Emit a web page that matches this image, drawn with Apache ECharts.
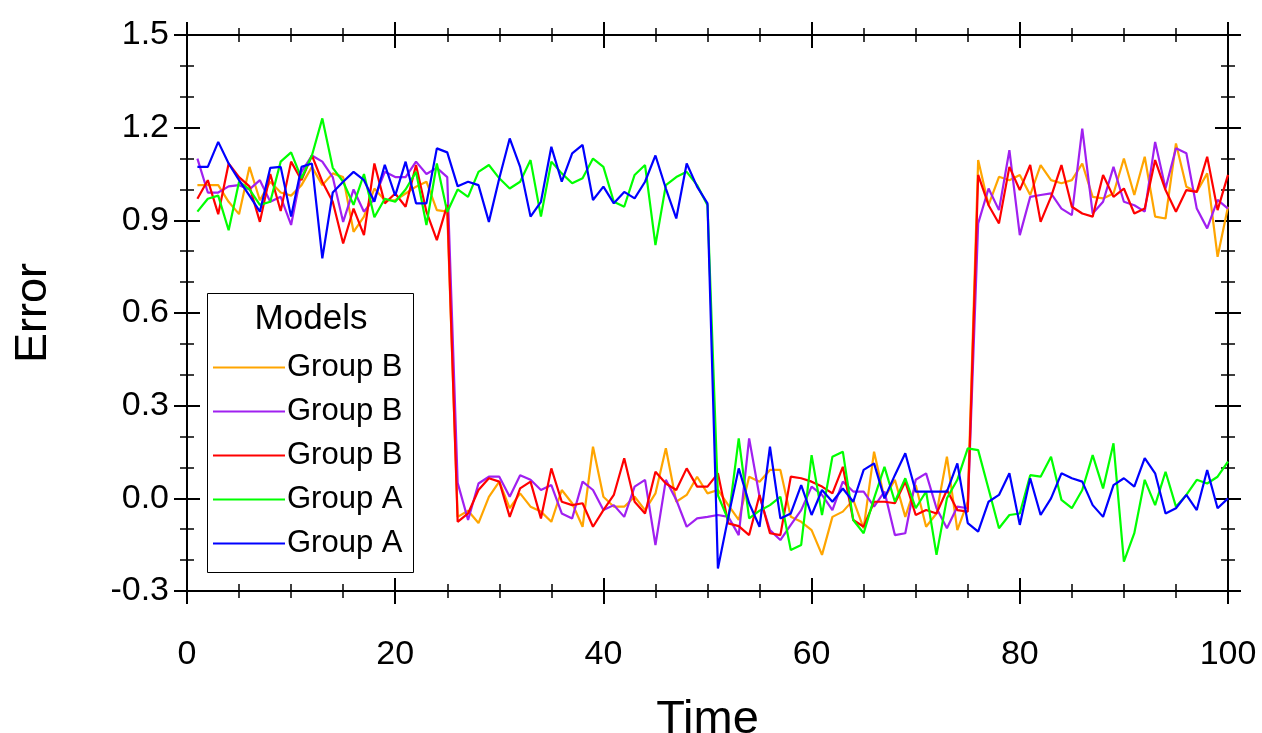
<!DOCTYPE html>
<html>
<head>
<meta charset="utf-8">
<script src="https://cdn.jsdelivr.net/npm/echarts@6/dist/echarts.min.js"></script>
<style>
html,body{margin:0;padding:0;background:#fff;}
#chart{width:1262px;height:733px;}
</style>
</head>
<body>
<div id="chart"></div>
<script>
// ---- data ----
const time = Array.from({length: 100}, (_, i) => i + 1);
const xTicks = [0, 20, 40, 60, 80, 100];
const yTicks = ['-0.3', '0.0', '0.3', '0.6', '0.9', '1.2', '1.5'];
const legendTitle = 'Models';
const seriesNames = ['Group B', 'Group B', 'Group B', 'Group A', 'Group A'];
const seriesColors = ['#FFA500', '#A020F0', '#FF0000', '#00FF00', '#0000FF'];

const orangeB = [
  1.014, 1.014, 1.014, 0.96, 0.92, 1.073, 0.965, 1.025, 0.99, 0.98, 1.014, 1.073,
  1.014, 1.052, 1.04, 0.863, 0.912, 1.003, 0.965, 0.965, 0.987, 1.009, 1.025, 0.933, 0.928,
  -0.06, -0.04, -0.08, 0.005, 0.054, -0.032, 0.016, -0.027, -0.043, -0.076, 0.027, -0.016,
  -0.092, 0.167, 0.005, -0.027, -0.027, 0.005, -0.038, 0.016, 0.162, -0.011, 0.011, 0.07, 0.016,
  0.027, -0.022, -0.07, 0.07, 0.054, 0.092, 0.092, -0.06, -0.076, -0.103, -0.183, -0.06,
  -0.043, -0.005, -0.097, 0.151, 0.0, 0.06, -0.06, 0.043, -0.092, -0.049, 0.135, -0.103, -0.011,
  1.095, 0.949, 1.041, 1.03, 1.047, 0.982, 1.079, 1.03, 1.02, 1.03, 1.084, 0.976,
  0.971, 0.987, 1.1, 0.982, 1.106, 0.912, 0.906, 1.149, 1.009, 0.992, 1.052, 0.782, 0.944
];
const purpleB = [
  1.1, 0.99, 0.99, 1.01, 1.014, 1.0, 1.03, 0.96, 0.976, 0.885, 1.057, 1.11,
  1.09, 1.04, 0.895, 1.0, 0.928, 0.97, 1.057, 1.04, 1.04, 1.09, 1.05, 1.07, 1.04,
  0.05, -0.07, 0.048, 0.07, 0.07, 0.005, 0.075, 0.06, 0.027, 0.043, -0.049, -0.065,
  0.054, 0.027, -0.038, -0.022, -0.06, 0.038, 0.06, -0.151, 0.06, -0.005, -0.092, -0.065, -0.06,
  -0.054, -0.06, -0.119, 0.194, 0.005, -0.103, -0.135, -0.086, -0.038, 0.038, 0.011, -0.038,
  0.054, 0.022, 0.022, -0.027, 0.022, -0.119, -0.113, 0.06, 0.081, -0.032, -0.097, -0.027, -0.032,
  0.89, 1.003, 0.933, 1.127, 0.852, 0.976, 0.982, 0.987, 0.938, 0.917, 1.197, 0.922,
  0.96, 1.073, 0.96, 0.949, 0.928, 1.154, 1.003, 1.133, 1.117, 0.938, 0.874, 0.966, 0.938
];
const redB = [
  0.97, 1.03, 0.92, 1.084, 1.04, 1.01, 0.895, 1.05, 0.93, 1.09, 1.03, 1.11,
  1.025, 0.96, 0.825, 0.938, 0.852, 1.084, 0.955, 0.987, 0.944, 1.079, 0.928, 0.836, 0.95,
  -0.076, -0.049, 0.027, 0.065, 0.054, -0.06, 0.032, 0.054, -0.065, 0.097, -0.011, -0.022,
  -0.016, -0.092, -0.038, 0.011, 0.13, -0.011, -0.049, 0.086, 0.048, 0.027, 0.097, 0.038, 0.038,
  0.081, -0.081, -0.09, -0.119, 0.011, -0.113, -0.119, 0.07, 0.065, 0.054, 0.038, 0.016,
  0.102, -0.07, -0.092, -0.011, -0.011, -0.016, 0.054, -0.054, -0.038, -0.049, 0.027, -0.038, -0.043,
  1.047, 0.949, 0.89, 1.073, 0.998, 1.079, 0.895, 0.976, 1.079, 0.944, 0.922, 0.912,
  1.047, 0.976, 1.003, 0.922, 0.938, 1.095, 0.998, 0.928, 0.998, 0.992, 1.106, 0.933, 1.047
];
const greenA = [
  0.928, 0.97, 0.98, 0.868, 1.025, 1.0, 0.95, 0.96, 1.09, 1.12, 1.036, 1.11,
  1.23, 1.07, 1.025, 0.95, 1.05, 0.91, 0.97, 0.96, 1.0, 1.057, 0.885, 1.084, 0.927,
  1.0, 0.976, 1.057, 1.079, 1.036, 1.003, 1.025, 1.095, 0.912, 1.09, 1.052, 1.02,
  1.036, 1.1, 1.073, 0.96, 0.944, 1.047, 1.079, 0.82, 1.014, 1.04, 1.057, 1.014, 0.949,
  0.01, -0.07, 0.194, -0.065, -0.04, -0.022, 0.005, -0.167, -0.151, 0.14, -0.054, 0.135,
  0.151, -0.07, -0.113, 0.0, 0.102, -0.011, 0.065, -0.032, 0.022, -0.183, 0.0, 0.06, 0.162,
  0.156, 0.03, -0.097, -0.054, -0.049, 0.075, 0.07, 0.135, -0.005, -0.032, 0.027, 0.14,
  0.032, 0.178, -0.205, -0.113, 0.06, -0.022, 0.086, -0.027, 0.011, 0.06, 0.048, 0.07, 0.119
];
const blueA = [
  1.073, 1.073, 1.154, 1.084, 1.03, 0.98, 0.928, 1.07, 1.073, 0.912, 1.073, 1.084,
  0.777, 0.99, 1.025, 1.057, 1.03, 0.96, 1.08, 0.98, 1.09, 0.955, 0.955, 1.133, 1.12,
  1.01, 1.025, 1.014, 0.895, 1.036, 1.165, 1.073, 0.912, 0.96, 1.138, 1.025, 1.117,
  1.144, 0.966, 1.009, 0.955, 0.992, 0.971, 1.025, 1.11, 1.003, 0.906, 1.084, 1.009, 0.955,
  -0.227, -0.06, 0.097, -0.016, -0.092, 0.167, -0.065, -0.049, 0.043, -0.054, 0.027, -0.011,
  0.032, -0.011, 0.092, 0.113, 0.0, 0.075, 0.146, 0.022, 0.022, 0.022, 0.022, 0.113, -0.08,
  -0.108, -0.011, 0.011, 0.081, -0.086, 0.065, -0.054, 0.0, 0.081, 0.065, 0.054, -0.022,
  -0.06, 0.043, 0.065, 0.038, 0.13, 0.081, -0.049, -0.032, 0.011, -0.038, 0.092, -0.032, 0.0
];
const seriesValues = [orangeB, purpleB, redB, greenA, blueA];

// ---- chart ----
const FONT = 'Liberation Sans, Arial, Helvetica, sans-serif';
const chart = echarts.init(document.getElementById('chart'), null, {renderer: 'canvas'});

function makeAxis(kind, position, inside, withLabels) {
  const base = {
    type: 'value',
    position: position,
    min: kind === 'x' ? 0 : -0.3,
    max: kind === 'x' ? 100 : 1.5,
    interval: kind === 'x' ? 20 : 0.3,
    splitLine: {show: false},
    axisLine: {show: true, onZero: false, lineStyle: {color: '#000', width: 2}},
    axisTick: {show: true, inside: inside, length: 13, lineStyle: {color: '#000', width: 2}},
    minorTick: {show: true, splitNumber: kind === 'x' ? 4 : 3, length: 7, lineStyle: {color: '#000', width: 1.5}},
    axisLabel: {show: false},
    silent: true
  };
  if (withLabels) {
    if (kind === 'x') {
      base.axisLabel = {
        show: true, fontSize: 34, color: '#000', fontFamily: FONT, margin: 47,
        formatter: v => String(xTicks.find(t => Math.abs(t - v) < 1e-6) ?? v)
      };
      base.name = 'Time';
      base.nameLocation = 'middle';
      base.nameGap = 106;
      base.nameTextStyle = {fontSize: 47, color: '#000', fontFamily: FONT};
    } else {
      base.axisLabel = {
        show: true, fontSize: 34, color: '#000', fontFamily: FONT, margin: 18,
        formatter: v => {
          const idx = Math.round((v + 0.3) / 0.3);
          return yTicks[idx] !== undefined ? yTicks[idx] : v.toFixed(1);
        }
      };
      base.name = 'Error';
      base.nameLocation = 'middle';
      base.nameGap = 131;
      base.nameRotate = 90;
      base.nameTextStyle = {fontSize: 45, color: '#000', fontFamily: FONT};
    }
  }
  return base;
}

const option = {
  backgroundColor: '#fff',
  animation: false,
  grid: {left: 187, right: 34, top: 35, bottom: 142, containLabel: false, outerBoundsMode: 'none'},
  xAxis: [
    makeAxis('x', 'bottom', false, true),
    makeAxis('x', 'bottom', true, false),
    makeAxis('x', 'top', false, false),
    makeAxis('x', 'top', true, false)
  ],
  yAxis: [
    makeAxis('y', 'left', false, true),
    makeAxis('y', 'left', true, false),
    makeAxis('y', 'right', false, false),
    makeAxis('y', 'right', true, false)
  ],
  graphic: [
    {type: 'rect', left: 207, top: 293, z: 5,
     shape: {width: 206, height: 279},
     style: {fill: '#fff', stroke: '#000', lineWidth: 1}},
    {type: 'text', x: 311, y: 319, z: 6,
     style: {text: legendTitle, fill: '#000', font: '35px ' + FONT, textAlign: 'center', textVerticalAlign: 'middle'}}
  ],
  legend: {
    orient: 'vertical',
    left: 213, top: 352,
    padding: 0,
    icon: 'rect',
    itemWidth: 72, itemHeight: 2, itemGap: 13,
    z: 10,
    data: seriesNames.map((n, i) => n + '#' + i),
    formatter: name => name.split('#')[0],
    textStyle: {fontSize: 31, color: '#000', fontFamily: FONT, lineHeight: 31, padding: [0, 0, 0, -3]}
  },
  series: seriesValues.map((vals, i) => ({
    name: seriesNames[i] + '#' + i,
    type: 'line',
    xAxisIndex: 0, yAxisIndex: 0,
    data: time.map((t, k) => [t, vals[k]]),
    symbol: 'none',
    color: seriesColors[i],
    lineStyle: {color: seriesColors[i], width: 2.2},
    z: 2
  }))
};
chart.setOption(option);
</script>
</body>
</html>
